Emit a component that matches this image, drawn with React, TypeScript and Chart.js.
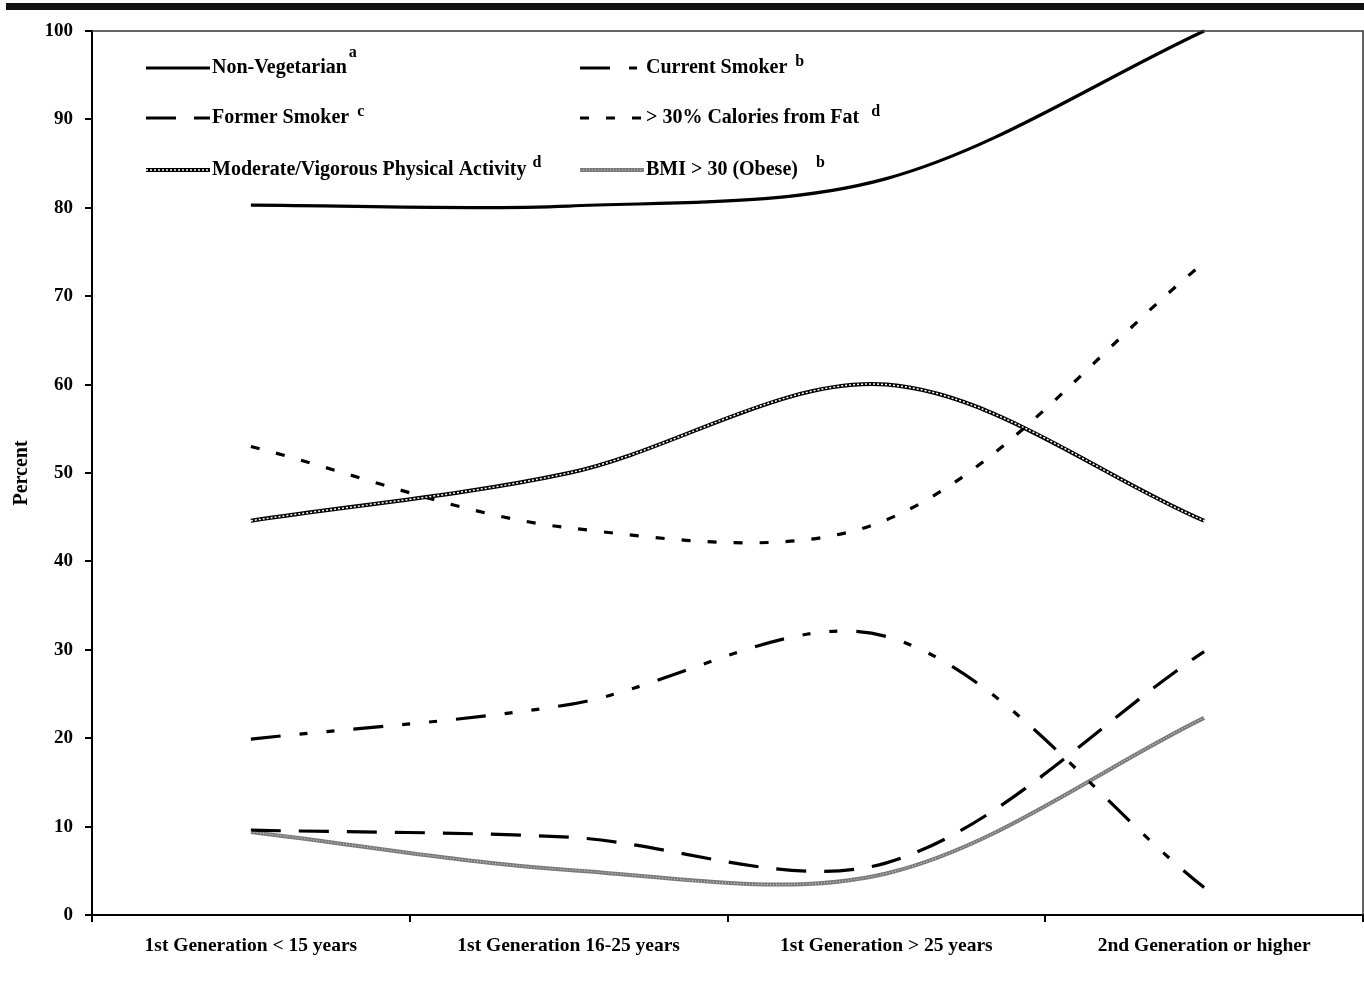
import React, { useEffect, useRef } from "react";
import { Chart, registerables } from "chart.js";

Chart.register(...registerables);

const categories = [
  "1st Generation < 15 years",
  "1st Generation 16-25 years",
  "1st Generation > 25 years",
  "2nd Generation or higher",
];
const nonVegetarian = [80.3, 80.2, 83.3, 100];
const currentSmoker = [19.9, 23.8, 31.5, 3.1];
const formerSmoker = [9.6, 8.8, 5.9, 29.8];
const caloriesFromFat = [53, 43.8, 44.7, 73.8];
const physicalActivity = [44.6, 50, 60, 44.6];
const bmiObese = [9.4, 5.1, 4.7, 22.3];
const yTicks = [0, 10, 20, 30, 40, 50, 60, 70, 80, 90, 100];

const FONT = "'Liberation Serif', 'Times New Roman', serif";

type Style = { color: string; width: number; dash: number[]; overlay?: { color: string; width: number; dash: number[] } };

const styles: Record<string, Style> = {
  nonVeg: { color: "#000", width: 3.2, dash: [] },
  current: { color: "#000", width: 3.2, dash: [30, 19, 8, 19, 8, 19] },
  former: { color: "#000", width: 3.2, dash: [30, 18] },
  fat: { color: "#000", width: 3.2, dash: [9, 17] },
  pa: { color: "#000", width: 4, dash: [], overlay: { color: "#fff", width: 1.5, dash: [2, 2] } },
  bmi: { color: "#7a7a7a", width: 4, dash: [], overlay: { color: "#cfcfcf", width: 1.2, dash: [1, 2] } },
};

const legendEntries = [
  { key: "nonVeg", label: "Non-Vegetarian", sup: "a", col: 0, row: 0, gap: 2, raise: 15 },
  { key: "current", label: "Current Smoker", sup: "b", col: 1, row: 0, gap: 8, raise: 6 },
  { key: "former", label: "Former Smoker", sup: "c", col: 0, row: 1, gap: 8, raise: 6 },
  { key: "fat", label: "> 30% Calories from Fat", sup: "d", col: 1, row: 1, gap: 12, raise: 6 },
  { key: "pa", label: "Moderate/Vigorous Physical Activity", sup: "d", col: 0, row: 2, gap: 6, raise: 7 },
  { key: "bmi", label: "BMI > 30 (Obese)", sup: "b", col: 1, row: 2, gap: 18, raise: 7 },
];

function lineDs(label: string, data: number[], st: Style, order: number, overlay = false) {
  const s = overlay && st.overlay ? st.overlay : st;
  return {
    label,
    data,
    borderColor: s.color,
    borderWidth: s.width,
    borderDash: s.dash,
    pointRadius: 0,
    pointHoverRadius: 0,
    tension: 0.33,
    fill: false,
    order,
    clip: 6,
  };
}

const legendPlugin = {
  id: "customLegend",
  afterDraw(chart: any) {
    const ctx = chart.ctx as CanvasRenderingContext2D;
    const area = chart.chartArea;
    ctx.save();
    // plot frame (top and right)
    ctx.strokeStyle = "#333";
    ctx.lineWidth = 1.5;
    ctx.beginPath();
    ctx.moveTo(area.left, area.top);
    ctx.lineTo(area.right, area.top);
    ctx.lineTo(area.right, area.bottom);
    ctx.stroke();

    const colX = [146, 580];
    const rowY = [68, 118, 170];
    const sampleLen = 64;
    for (const e of legendEntries) {
      const st = styles[e.key];
      const x0 = colX[e.col];
      const y = rowY[e.row];
      const draw = (s: { color: string; width: number; dash: number[] }) => {
        ctx.strokeStyle = s.color;
        ctx.lineWidth = s.width;
        ctx.setLineDash(s.dash);
        ctx.beginPath();
        ctx.moveTo(x0, y);
        ctx.lineTo(x0 + sampleLen, y);
        ctx.stroke();
      };
      draw(st);
      if (st.overlay) draw(st.overlay);
      ctx.setLineDash([]);
      ctx.fillStyle = "#000";
      ctx.font = `bold 20px ${FONT}`;
      ctx.textBaseline = "middle";
      ctx.textAlign = "left";
      const tx = x0 + sampleLen + 2;
      ctx.fillText(e.label, tx, y);
      const w = ctx.measureText(e.label).width;
      ctx.font = `bold 16px ${FONT}`;
      ctx.fillText(e.sup, tx + w + e.gap, y - e.raise);
    }
    ctx.restore();
  },
};

export default function App() {
  const ref = useRef<HTMLCanvasElement | null>(null);
  useEffect(() => {
    if (!ref.current) return;
    const xFont = { family: FONT, size: 19.5, weight: "bold" as const };
    const yFont = { family: FONT, size: 19, weight: "bold" as const };
    const chart = new Chart(ref.current, {
      type: "line",
      data: {
        labels: categories,
        datasets: [
          lineDs("Physical Activity overlay", physicalActivity, styles.pa, 0, true),
          lineDs("BMI overlay", bmiObese, styles.bmi, 0, true),
          lineDs("Non-Vegetarian", nonVegetarian, styles.nonVeg, 1),
          lineDs("Current Smoker", currentSmoker, styles.current, 1),
          lineDs("Former Smoker", formerSmoker, styles.former, 1),
          lineDs("> 30% Calories from Fat", caloriesFromFat, styles.fat, 1),
          lineDs("Moderate/Vigorous Physical Activity", physicalActivity, styles.pa, 2),
          lineDs("BMI > 30 (Obese)", bmiObese, styles.bmi, 2),
        ],
      },
      options: {
        responsive: false,
        animation: false,
        devicePixelRatio: 1,
        layout: { padding: { top: 31, right: 1, left: 0, bottom: 0 } },
        plugins: { legend: { display: false }, tooltip: { enabled: false } },
        events: [],
        scales: {
          x: {
            type: "category",
            offset: true,
            grid: { offset: true, drawOnChartArea: false, drawTicks: true, tickLength: 7, color: "#000", lineWidth: 2 },
            border: { display: true, color: "#000", width: 2 },
            ticks: { color: "#000", font: xFont, padding: 12, maxRotation: 0, autoSkip: false },
            afterFit: (s: any) => {
              s.height = 67;
            },
          },
          y: {
            min: 0,
            max: 100,
            afterBuildTicks: (s: any) => {
              s.ticks = yTicks.map((v) => ({ value: v }));
            },
            grid: { drawOnChartArea: false, drawTicks: true, tickLength: 7, color: "#000", lineWidth: 2 },
            border: { display: true, color: "#000", width: 2 },
            ticks: { color: "#000", font: yFont, padding: 12 },
            title: {
              display: true,
              text: "Percent",
              color: "#000",
              font: { family: FONT, size: 20, weight: "bold" },
              padding: { top: 10, bottom: 0 },
            },
            afterFit: (s: any) => {
              s.width = 92;
            },
          },
        },
      } as any,
      plugins: [legendPlugin],
    });
    return () => chart.destroy();
  }, []);
  return (
    <div style={{ position: "absolute", left: 0, top: 0, width: 1364, height: 982, background: "#fff" }}>
      <div style={{ position: "absolute", left: 6, top: 3, width: 1358, height: 7, background: "#111" }} />
      <canvas ref={ref} width={1364} height={982} style={{ width: 1364, height: 982, display: "block" }} />
    </div>
  );
}
